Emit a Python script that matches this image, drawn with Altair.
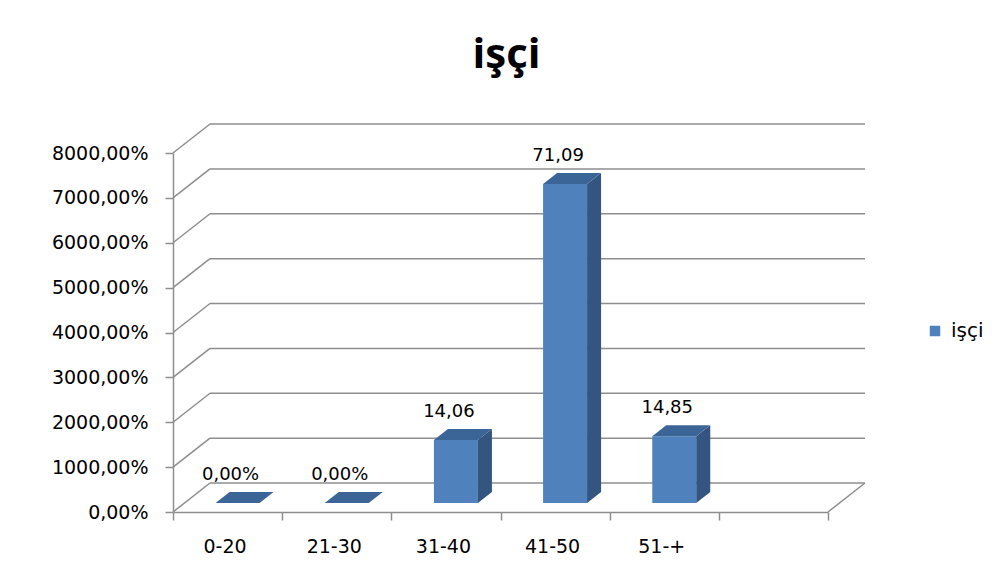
import json
import altair as alt
import pandas as pd

# ---- data ----
title_text = "işçi"
series_name = "işçi"
categories = ["0-20", "21-30", "31-40", "41-50", "51-+"]
values = [0.0, 0.0, 14.06, 71.09, 14.85]
value_labels = ["0,00%", "0,00%", "14,06", "71,09", "14,85"]
y_ticks = [0, 10, 20, 30, 40, 50, 60, 70, 80]
n_slots = 6  # Excel leaves one empty category slot at the right

# ---- geometry (pixels -> data units) ----
W, H = 655, 359
Y_MAX = 80
PXX = W / n_slots
PXY = H / Y_MAX

wall_dx = 37 / PXX
wall_dy = 29 / PXY
bar_off_x = 10 / PXX
bar_off_y = 9 / PXY
bar_half = 22 / PXX
bar_dx = 14 / PXX
bar_dy = 11 / PXY

FONT = "DejaVu Sans"
GRID = "#8E8E8E"

grid_rows = [dict(x=wall_dx, x2=n_slots + wall_dx, y=t + wall_dy, y2=t + wall_dy) for t in y_ticks]
diag_rows = [dict(x=0.0, x2=wall_dx, y=t, y2=t + wall_dy) for t in y_ticks]
diag_rows.append(dict(x=float(n_slots), x2=n_slots + wall_dx, y=0.0, y2=wall_dy))
lines_df = pd.DataFrame(grid_rows + diag_rows)

front_rows, side_rows, top_rows, label_rows = [], [], [], []
for i, (c, v, lab) in enumerate(zip(categories, values, value_labels)):
    xl = i + 0.5 + bar_off_x - bar_half
    xr = xl + 2 * bar_half
    yb = bar_off_y
    yt = v + bar_off_y
    front_rows.append(dict(x=xl, x2=xr, y=yb, y2=yt, series=series_name, cat=c))
    side_rows += [
        dict(bar=i, x=xr, y=yt, y2=yb),
        dict(bar=i, x=xr + bar_dx, y=yt + bar_dy, y2=yb + bar_dy),
    ]
    top_rows += [
        dict(bar=i, x=xl, y=yt, y2=yt),
        dict(bar=i, x=xl + bar_dx, y=yt + bar_dy, y2=yt),
        dict(bar=i, x=xr, y=yt + bar_dy, y2=yt),
        dict(bar=i, x=xr + bar_dx, y=yt + bar_dy, y2=yt + bar_dy),
    ]
    label_rows.append(dict(x=i + 0.5, y=v, text=lab))

front_df = pd.DataFrame(front_rows)
side_df = pd.DataFrame(side_rows)
top_df = pd.DataFrame(top_rows)
label_df = pd.DataFrame(label_rows)

x_label_expr = json.dumps(categories) + "[datum.value] || ''"

x_axis = alt.Axis(
    values=list(range(0, n_slots + 1)), labelExpr=x_label_expr, labelOffset=PXX / 2 - 3,
    labelFlush=False, labelOverlap=False, grid=False, title=None,
    domainColor=GRID, domainWidth=1.5, tickColor=GRID, tickWidth=1.5, tickSize=8,
    labelFont=FONT, labelFontSize=19, labelColor="#000000", labelPadding=17,
)
y_axis = alt.Axis(
    values=y_ticks,
    labelExpr="replace(format(datum.value * 100, '.2f'), '.', ',') + '%'",
    grid=False, title=None,
    domainColor=GRID, domainWidth=1.5, tickColor=GRID, tickWidth=1.5, tickSize=8,
    labelFont=FONT, labelFontSize=19, labelColor="#000000", labelPadding=17,
)

X = alt.X("x:Q", scale=alt.Scale(domain=[0, n_slots], nice=False, zero=False), axis=x_axis)
Y = alt.Y("y:Q", scale=alt.Scale(domain=[0, Y_MAX], nice=False), axis=y_axis, stack=None)

lines = alt.Chart(lines_df).mark_rule(color=GRID, strokeWidth=1.5).encode(
    x=X, x2="x2:Q", y=Y, y2="y2:Q"
)

front = alt.Chart(front_df).mark_rect().encode(
    x=X, x2="x2:Q", y=Y, y2="y2:Q",
    color=alt.Color(
        "series:N",
        scale=alt.Scale(domain=[series_name], range=["#4F81BD"]),
        legend=alt.Legend(
            title=None, orient="none", legendX=752, legendY=168, padding=0,
            symbolType="square", symbolSize=110, symbolStrokeWidth=0,
            labelFont=FONT, labelFontSize=20, labelColor="#000000", labelOffset=6,
        ),
    ),
)

side = alt.Chart(side_df).mark_area(orient="vertical", color="#34557F").encode(
    x=X, y=Y, y2="y2:Q", detail="bar:N"
)

top = alt.Chart(top_df).mark_area(orient="vertical", color="#3C6597").encode(
    x=X, y=Y, y2="y2:Q", detail="bar:N"
)

labels = alt.Chart(label_df).mark_text(
    font=FONT, fontSize=18, color="#000000", dy=-37, dx=3, baseline="middle"
).encode(x=X, y=Y, text="text:N")

chart = alt.layer(lines, front, side, top, labels).properties(
    width=W, height=H,
    background="#FFFFFF",
    title=alt.TitleParams(
        text=title_text, font="Open Sans", fontSize=42, fontWeight="bold",
        color="#000000", anchor="middle", frame="group", offset=46, dx=6,
    ),
    autosize=alt.AutoSizeParams(type="none"),
    padding={"left": 165, "top": 145, "right": 168, "bottom": 61},
).configure_view(stroke=None)

chart.save("out.html", embed_options={"renderer": "svg", "actions": False})
